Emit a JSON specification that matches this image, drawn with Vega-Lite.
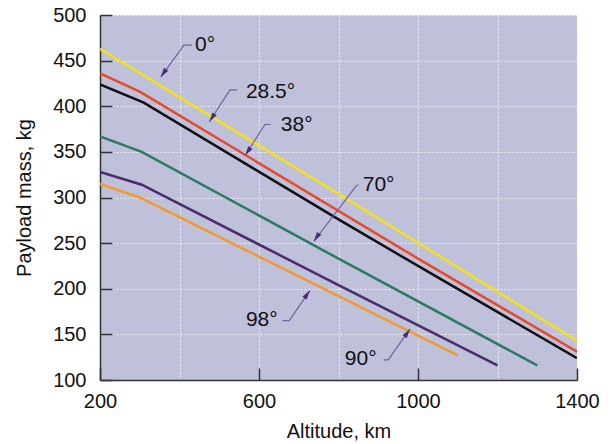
{
  "$schema": "https://vega.github.io/schema/vega-lite/v6.json",
  "width": 477,
  "height": 365,
  "autosize": {"type": "none"},
  "padding": {"left": 100, "top": 15, "right": 34, "bottom": 64},
  "background": "white",
  "config": {
    "view": {"fill": "#bfc0da", "stroke": null},
    "font": "Liberation Sans",
    "axis": {
      "domainColor": "#333333",
      "domainWidth": 1.5,
      "tickColor": "#333333",
      "tickWidth": 1.5,
      "tickSize": -12,
      "labelFlush": false,
      "labelFont": "Liberation Sans",
      "labelFontSize": 20,
      "labelColor": "#111111",
      "titleFont": "Liberation Sans",
      "titleFontSize": 20,
      "titleFontWeight": "normal",
      "titleColor": "#111111",
      "gridColor": "#ffffff",
      "gridOpacity": 0.75,
      "gridWidth": 1,
      "gridDash": [2, 2]
    }
  },
  "datasets": {
    "curves": [
      {"incl": "0°", "alt": 200, "mass": 463},
      {"incl": "0°", "alt": 800, "mass": 304},
      {"incl": "0°", "alt": 1400, "mass": 143},
      {"incl": "28.5°", "alt": 200, "mass": 436},
      {"incl": "28.5°", "alt": 300, "mass": 416},
      {"incl": "28.5°", "alt": 1000, "mass": 233},
      {"incl": "28.5°", "alt": 1400, "mass": 131},
      {"incl": "38°", "alt": 200, "mass": 424},
      {"incl": "38°", "alt": 310, "mass": 404},
      {"incl": "38°", "alt": 800, "mass": 276},
      {"incl": "38°", "alt": 1000, "mass": 225},
      {"incl": "38°", "alt": 1400, "mass": 124},
      {"incl": "70°", "alt": 200, "mass": 367},
      {"incl": "70°", "alt": 305, "mass": 350},
      {"incl": "70°", "alt": 800, "mass": 233},
      {"incl": "70°", "alt": 1300, "mass": 116},
      {"incl": "90°", "alt": 200, "mass": 328},
      {"incl": "90°", "alt": 305, "mass": 314},
      {"incl": "90°", "alt": 800, "mass": 204},
      {"incl": "90°", "alt": 1200, "mass": 116},
      {"incl": "98°", "alt": 200, "mass": 315},
      {"incl": "98°", "alt": 300, "mass": 300},
      {"incl": "98°", "alt": 800, "mass": 192},
      {"incl": "98°", "alt": 1100, "mass": 127}
    ],
    "leaders": [
      {"name": "0°", "seq": 1, "alt": 431, "mass": 467},
      {"name": "0°", "seq": 2, "alt": 411, "mass": 467},
      {"name": "0°", "seq": 3, "alt": 353, "mass": 432},
      {"name": "28.5°", "seq": 1, "alt": 545, "mass": 418},
      {"name": "28.5°", "seq": 2, "alt": 527, "mass": 418},
      {"name": "28.5°", "seq": 3, "alt": 475, "mass": 383},
      {"name": "38°", "seq": 1, "alt": 629, "mass": 380},
      {"name": "38°", "seq": 2, "alt": 615, "mass": 380},
      {"name": "38°", "seq": 3, "alt": 565, "mass": 346},
      {"name": "70°", "seq": 1, "alt": 850, "mass": 314},
      {"name": "70°", "seq": 2, "alt": 845, "mass": 313},
      {"name": "70°", "seq": 3, "alt": 738, "mass": 252},
      {"name": "98°", "seq": 1, "alt": 659, "mass": 165},
      {"name": "98°", "seq": 2, "alt": 676, "mass": 165},
      {"name": "98°", "seq": 3, "alt": 728, "mass": 198},
      {"name": "90°", "seq": 1, "alt": 913, "mass": 122},
      {"name": "90°", "seq": 2, "alt": 925, "mass": 122},
      {"name": "90°", "seq": 3, "alt": 980, "mass": 156}
    ],
    "tips": [
      {"name": "0°", "dir": "down", "alt": 353, "mass": 432},
      {"name": "28.5°", "dir": "down", "alt": 475, "mass": 383},
      {"name": "38°", "dir": "down", "alt": 565, "mass": 346},
      {"name": "70°", "dir": "down", "alt": 738, "mass": 252},
      {"name": "98°", "dir": "up", "alt": 728, "mass": 198},
      {"name": "90°", "dir": "up", "alt": 980, "mass": 156}
    ],
    "labels": [
      {"name": "0°", "alt": 439, "mass": 467},
      {"name": "28.5°", "alt": 567, "mass": 416},
      {"name": "38°", "alt": 655, "mass": 379},
      {"name": "70°", "alt": 861, "mass": 314},
      {"name": "98°", "alt": 567, "mass": 166},
      {"name": "90°", "alt": 816, "mass": 123}
    ]
  },
  "layer": [
    {
      "data": {"name": "curves"},
      "mark": {"type": "line", "strokeWidth": 2.5, "clip": true},
      "encoding": {
        "x": {
          "field": "alt",
          "type": "quantitative",
          "scale": {"domain": [200, 1400], "nice": false, "zero": false},
          "axis": {
            "title": "Altitude, km",
            "values": [200, 400, 600, 800, 1000, 1200, 1400],
            "format": "d",
            "labelExpr": "datum.value % 400 == 200 ? datum.label : ''",
            "tickOpacity": {"condition": {"test": "datum.value % 400 == 200", "value": 1}, "value": 0},
            "labelPadding": 23,
            "titlePadding": 10
          }
        },
        "y": {
          "field": "mass",
          "type": "quantitative",
          "scale": {"domain": [100, 500], "nice": false, "zero": false},
          "axis": {
            "title": "Payload mass, kg",
            "values": [100, 150, 200, 250, 300, 350, 400, 450, 500],
            "labelPadding": 26,
            "titlePadding": 18
          }
        },
        "color": {
          "field": "incl",
          "type": "nominal",
          "scale": {
            "domain": ["0°", "28.5°", "38°", "70°", "90°", "98°"],
            "range": ["#f2e11c", "#e44a2c", "#111111", "#2e7a60", "#4a2c6c", "#f29a2e"]
          },
          "legend": null
        }
      }
    },
    {
      "data": {"name": "leaders"},
      "mark": {"type": "line", "color": "#6e62a0", "strokeWidth": 1.2},
      "encoding": {
        "x": {"field": "alt", "type": "quantitative"},
        "y": {"field": "mass", "type": "quantitative"},
        "detail": {"field": "name"},
        "order": {"field": "seq"}
      }
    },
    {
      "data": {"name": "tips"},
      "transform": [{"filter": "datum.dir == 'down'"}],
      "mark": {"type": "point", "shape": "M0,0L0.55,2L-0.55,2Z", "angle": 214, "size": 90, "filled": true, "opacity": 1, "color": "#4a2d70"},
      "encoding": {
        "x": {"field": "alt", "type": "quantitative"},
        "y": {"field": "mass", "type": "quantitative"}
      }
    },
    {
      "data": {"name": "tips"},
      "transform": [{"filter": "datum.dir == 'up'"}],
      "mark": {"type": "point", "shape": "M0,0L0.55,2L-0.55,2Z", "angle": 35, "size": 90, "filled": true, "opacity": 1, "color": "#4a2d70"},
      "encoding": {
        "x": {"field": "alt", "type": "quantitative"},
        "y": {"field": "mass", "type": "quantitative"}
      }
    },
    {
      "data": {"name": "labels"},
      "mark": {"type": "text", "align": "left", "baseline": "middle", "fontSize": 21, "font": "Liberation Sans", "color": "#111111"},
      "encoding": {
        "x": {"field": "alt", "type": "quantitative"},
        "y": {"field": "mass", "type": "quantitative"},
        "text": {"field": "name"}
      }
    }
  ]
}
